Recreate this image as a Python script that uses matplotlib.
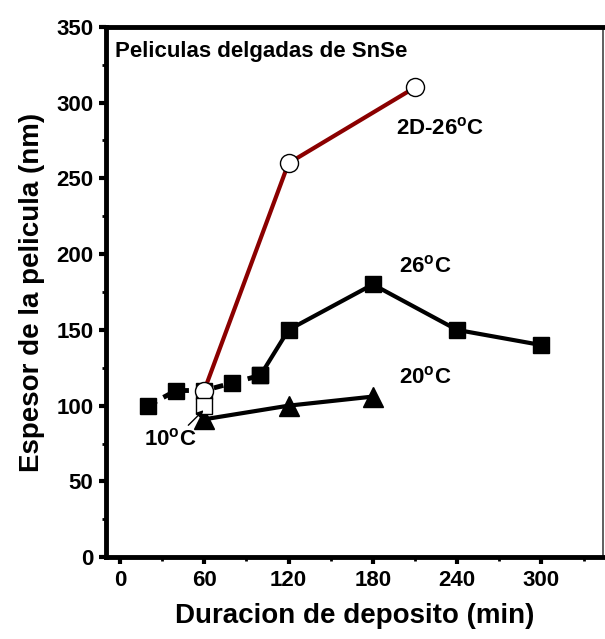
import matplotlib.pyplot as plt
from matplotlib.ticker import MultipleLocator

plt.rcParams['font.family'] = ['Liberation Sans', 'DejaVu Sans']
plt.rcParams['font.weight'] = 'bold'
plt.rcParams['mathtext.fontset'] = 'custom'
plt.rcParams['mathtext.rm'] = 'Liberation Sans:bold'
plt.rcParams['mathtext.bf'] = 'Liberation Sans:bold'

# Datos
t_26_dash = [20, 40, 60, 80, 100]
e_26_dash = [100, 110, 110, 115, 120]
t_26 = [100, 120, 180, 240, 300]
e_26 = [120, 150, 180, 150, 140]
t_20 = [60, 120, 180]
e_20 = [91, 100, 106]
t_2d = [60, 120, 210]
e_2d = [110, 260, 310]
t_10 = [60]
e_10 = [100]

fig = plt.figure(figsize=(6.05, 6.39), dpi=100)
ax = fig.add_axes([0.175, 0.128, 0.822, 0.83])

# 26 C (parte discontinua y parte continua)
ax.plot(t_26_dash, e_26_dash, color='black', lw=3.5, ls=(0, (2.0, 1.6)),
        marker='s', ms=12, zorder=3)
ax.plot(t_26, e_26, color='black', lw=3, marker='s', ms=12, zorder=3)
# 20 C
ax.plot(t_20, e_20, color='black', lw=3, marker='^', ms=14, zorder=3)
# 2D-26 C
ax.plot(t_2d, e_2d, color='#8b0000', lw=3, marker='o', ms=13,
        mfc='white', mec='black', mew=1, zorder=4)
# 10 C
ax.plot(t_10, e_10, ls='none', marker='s', ms=11.5, mfc='white', mec='black',
        mew=1, zorder=4)

lab_kw = dict(fontsize=16, fontweight='bold', ha='center', va='center')
ax.text(228, 283, '2D-26$^{\\mathregular{o}}$C', **lab_kw)
ax.text(217, 192, '26$^{\\mathregular{o}}$C', **lab_kw)
ax.text(217, 118.5, '20$^{\\mathregular{o}}$C', **lab_kw)
ax.annotate('10$^{\\mathregular{o}}$C', xy=(59.5, 97), xytext=(36, 78),
            arrowprops=dict(arrowstyle='-|>', color='black', lw=1,
                            mutation_scale=10, shrinkA=0, shrinkB=0,
                            relpos=(0.68, 0.75)), zorder=6, **lab_kw)
ax.text(-3.5, 334, 'Peliculas delgadas de SnSe', fontsize=16, fontweight='bold',
        ha='left', va='center')

ax.set_xlim(-10, 344)
ax.set_ylim(0, 350)
ax.xaxis.set_major_locator(MultipleLocator(60))
ax.xaxis.set_minor_locator(MultipleLocator(30))
ax.yaxis.set_major_locator(MultipleLocator(50))
ax.yaxis.set_minor_locator(MultipleLocator(25))
ax.tick_params(which='major', direction='out', length=5, width=3, labelsize=16, pad=4)
ax.tick_params(which='minor', direction='out', length=3, width=2)
ax.tick_params(top=False, right=False)
for lab in ax.get_xticklabels() + ax.get_yticklabels():
    lab.set_fontweight('bold')

for s in ['left', 'bottom', 'top']:
    ax.spines[s].set_linewidth(3.5)
ax.spines['right'].set_linewidth(1.2)
ax.spines['right'].set_color('#444444')

ax.set_xlabel('Duracion de deposito (min)', fontsize=20, fontweight='bold', labelpad=9)
ax.set_ylabel('Espesor de la pelicula (nm)', fontsize=20, fontweight='bold', labelpad=8)

fig.savefig('out.png', dpi=100)
